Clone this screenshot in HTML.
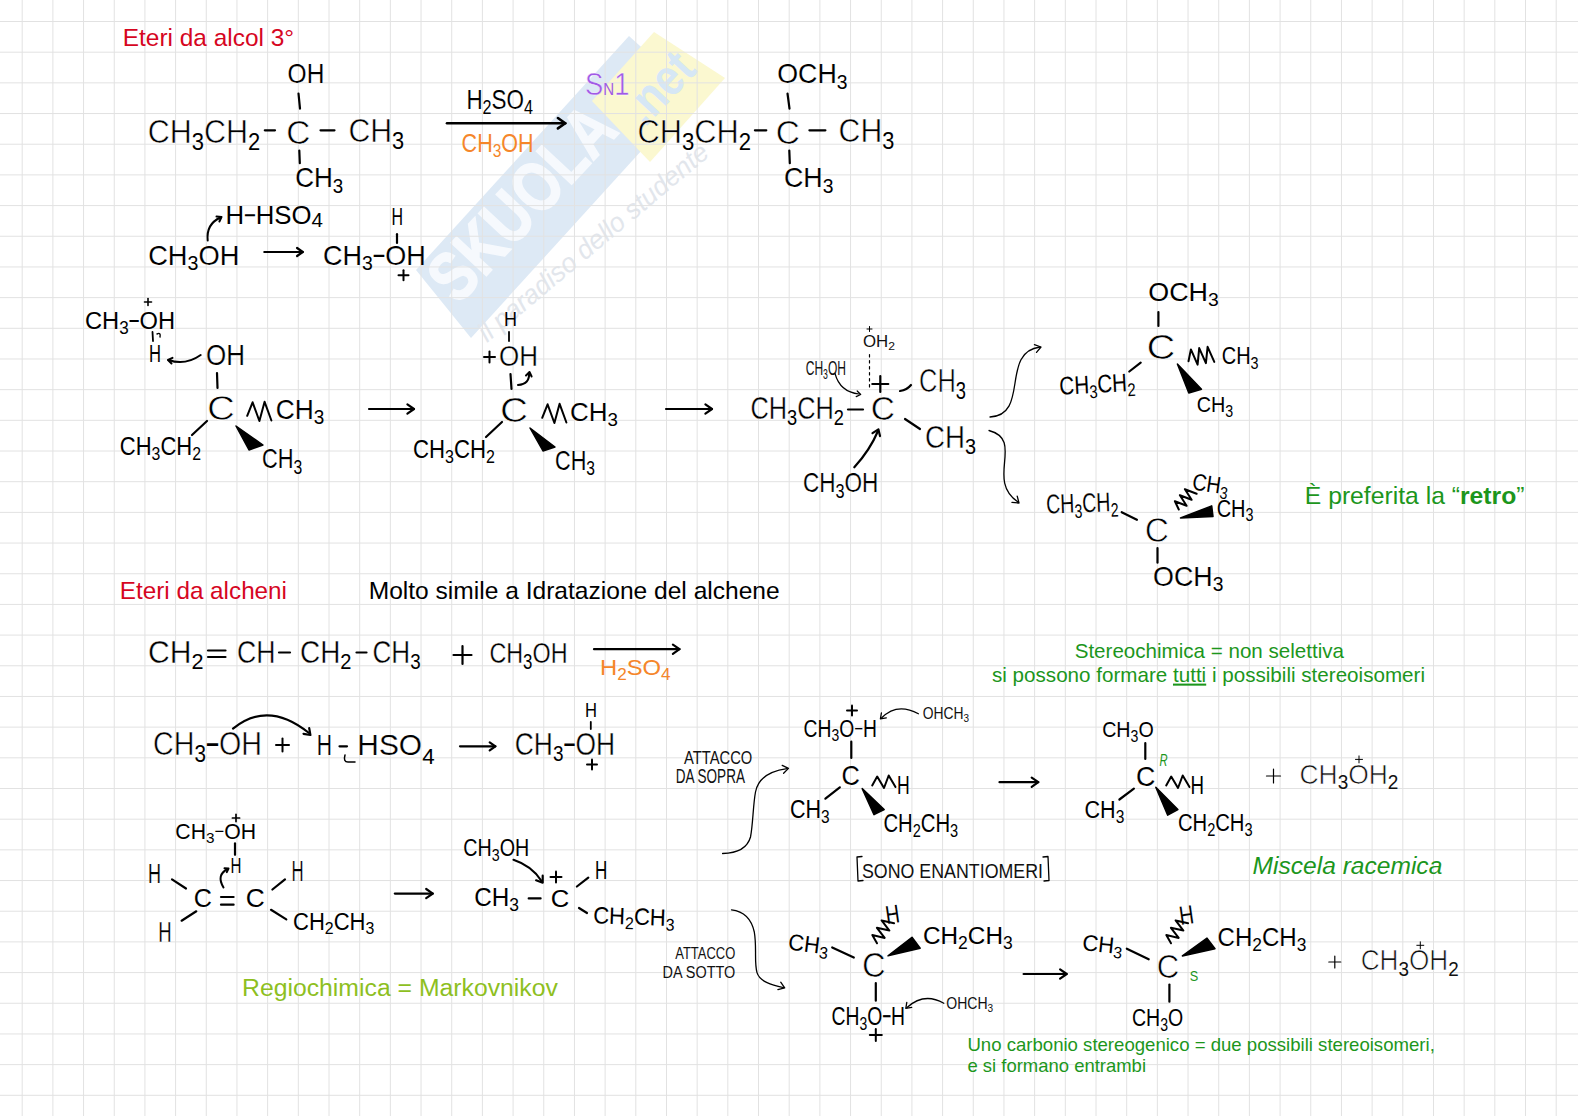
<!DOCTYPE html>
<html lang="it"><head><meta charset="utf-8"><title>Eteri</title>
<style>
html,body{margin:0;padding:0;background:#fff;}
svg{display:block;font-family:'Liberation Sans', sans-serif;}
</style></head><body>
<svg width="1578" height="1116" viewBox="0 0 1578 1116">
<rect width="1578" height="1116" fill="#fff"/>
<g id="wm">
<path d="M416 270L629 36L693 94L471 338Z" fill="#dde9f5"/>
<path d="M654 32L725 78L650 162L592 101Z" fill="#fbf8d0"/>
<text x="0" y="0" transform="translate(458 306) rotate(-47)" font-size="70" font-weight="bold" fill="#f6f9fd" stroke="#f6f9fd" stroke-width="1.5" textLength="238" lengthAdjust="spacingAndGlyphs">SKUOLA</text>
<text x="0" y="0" transform="translate(645 128) rotate(-47)" font-size="52" font-weight="bold" fill="#d6e7f5" textLength="78" lengthAdjust="spacingAndGlyphs">.net</text>
<text x="0" y="0" transform="translate(487 343) rotate(-40)" font-size="27" font-style="italic" fill="#e2e6ec" textLength="292" lengthAdjust="spacingAndGlyphs">il paradiso dello studente</text>
</g>
<path d="M22.20 0V1116M52.88 0V1116M83.56 0V1116M114.24 0V1116M144.92 0V1116M175.60 0V1116M206.28 0V1116M236.96 0V1116M267.64 0V1116M298.32 0V1116M329.00 0V1116M359.68 0V1116M390.36 0V1116M421.04 0V1116M451.72 0V1116M482.40 0V1116M513.08 0V1116M543.76 0V1116M574.44 0V1116M605.12 0V1116M635.80 0V1116M666.48 0V1116M697.16 0V1116M727.84 0V1116M758.52 0V1116M789.20 0V1116M819.88 0V1116M850.56 0V1116M881.24 0V1116M911.92 0V1116M942.60 0V1116M973.28 0V1116M1003.96 0V1116M1034.64 0V1116M1065.32 0V1116M1096.00 0V1116M1126.68 0V1116M1157.36 0V1116M1188.04 0V1116M1218.72 0V1116M1249.40 0V1116M1280.08 0V1116M1310.76 0V1116M1341.44 0V1116M1372.12 0V1116M1402.80 0V1116M1433.48 0V1116M1464.16 0V1116M1494.84 0V1116M1525.52 0V1116M1556.20 0V1116M0 21.50H1578M0 52.18H1578M0 82.86H1578M0 113.54H1578M0 144.22H1578M0 174.90H1578M0 205.58H1578M0 236.26H1578M0 266.94H1578M0 297.62H1578M0 328.30H1578M0 358.98H1578M0 389.66H1578M0 420.34H1578M0 451.02H1578M0 481.70H1578M0 512.38H1578M0 543.06H1578M0 573.74H1578M0 604.42H1578M0 635.10H1578M0 665.78H1578M0 696.46H1578M0 727.14H1578M0 757.82H1578M0 788.50H1578M0 819.18H1578M0 849.86H1578M0 880.54H1578M0 911.22H1578M0 941.90H1578M0 972.58H1578M0 1003.26H1578M0 1033.94H1578M0 1064.62H1578M0 1095.30H1578" stroke="#e2e2e2" stroke-width="1" fill="none"/>
<text x="122.8" y="46.0" font-size="24.4" textLength="171.2" lengthAdjust="spacingAndGlyphs" fill="#d6061f">Eteri da alcol 3°</text>
<text x="119.8" y="599.3" font-size="24.4" textLength="167.2" lengthAdjust="spacingAndGlyphs" fill="#d6061f">Eteri da alcheni</text>
<text x="368.7" y="599.3" font-size="24.4" textLength="411.0" lengthAdjust="spacingAndGlyphs" fill="#000">Molto simile a Idratazione del alchene</text>
<text x="1304.8" y="504" font-size="24.4" fill="#1c961c" textLength="219.7" lengthAdjust="spacingAndGlyphs">È preferita la “<tspan font-weight="bold">retro</tspan>”</text>
<text x="1074.7" y="658.0" font-size="20.6" textLength="269.3" lengthAdjust="spacingAndGlyphs" fill="#1c961c">Stereochimica = non selettiva</text>
<text x="992" y="681.6" font-size="20.6" fill="#1c961c" textLength="433" lengthAdjust="spacingAndGlyphs">si possono formare <tspan text-decoration="underline">tutti</tspan> i possibili stereoisomeri</text>
<text x="1252.6" y="873.5" font-size="24.5" textLength="189.7" lengthAdjust="spacingAndGlyphs" fill="#1c961c" font-style="italic">Miscela racemica</text>
<text x="242.0" y="995.5" font-size="24.7" textLength="315.9" lengthAdjust="spacingAndGlyphs" fill="#8ebf1f">Regiochimica = Markovnikov</text>
<text x="967.4" y="1050.7" font-size="18.5" textLength="467.4" lengthAdjust="spacingAndGlyphs" fill="#1c961c">Uno carbonio stereogenico = due possibili stereoisomeri,</text>
<text x="967.4" y="1072.4" font-size="18.5" textLength="178.6" lengthAdjust="spacingAndGlyphs" fill="#1c961c">e si formano entrambi</text>
<text x="287.6" y="83.4" font-size="27.1" textLength="36.7" lengthAdjust="spacingAndGlyphs" fill="#000" stroke="#fff" stroke-width="0.12">OH</text>
<path d="M298.5 93.5L300.0 108.7" stroke="#000" stroke-width="2.2" fill="none" stroke-linecap="round"/>
<text x="147.7" y="143.0" font-size="32.9" textLength="112.5" lengthAdjust="spacingAndGlyphs" fill="#000" stroke="#fff" stroke-width="0.57">CH<tspan font-size="23.7" stroke-width="0" dy="6.6">3</tspan><tspan dy="-6.6">CH</tspan><tspan font-size="23.7" stroke-width="0" dy="6.6">2</tspan></text>
<path d="M264.8 130.3L275.0 130.3" stroke="#000" stroke-width="2.2" fill="none" stroke-linecap="round"/>
<text x="286.3" y="143.5" font-size="33.6" textLength="24.1" lengthAdjust="spacingAndGlyphs" fill="#000" stroke="#fff" stroke-width="0.63">C</text>
<path d="M320.5 130.3L334.5 130.3" stroke="#000" stroke-width="2.2" fill="none" stroke-linecap="round"/>
<text x="348.4" y="142.0" font-size="32.9" textLength="55.8" lengthAdjust="spacingAndGlyphs" fill="#000" stroke="#fff" stroke-width="0.57">CH<tspan font-size="23.7" stroke-width="0" dy="6.6">3</tspan></text>
<path d="M299.3 150.5L299.8 163.2" stroke="#000" stroke-width="2.2" fill="none" stroke-linecap="round"/>
<text x="295.2" y="187.3" font-size="27.1" textLength="48.1" lengthAdjust="spacingAndGlyphs" fill="#000" stroke="#fff" stroke-width="0.12">CH<tspan font-size="19.5" stroke-width="0" dy="5.4">3</tspan></text>
<text x="466.4" y="108.7" font-size="27.1" textLength="66.6" lengthAdjust="spacingAndGlyphs" fill="#000" stroke="#fff" stroke-width="0.12">H<tspan font-size="19.5" stroke-width="0" dy="5.4">2</tspan><tspan dy="-5.4">SO</tspan><tspan font-size="19.5" stroke-width="0" dy="5.4">4</tspan></text>
<path d="M447.0 123.2L565.3 123.2" stroke="#000" stroke-width="2.6" fill="none" stroke-linecap="round"/>
<path d="M557.9 128.4L565.3 123.2L557.9 118.0" stroke="#000" stroke-width="2.6" fill="none" stroke-linecap="round" stroke-linejoin="round"/>
<text x="461.6" y="151.8" font-size="25.4" textLength="72.0" lengthAdjust="spacingAndGlyphs" fill="#f5862a" stroke="#fff" stroke-width="0">CH<tspan font-size="18.3" stroke-width="0" dy="5.1">3</tspan><tspan dy="-5.1">OH</tspan></text>
<text x="585.0" y="94.8" font-size="30.9" textLength="44.4" lengthAdjust="spacingAndGlyphs" fill="#a05ae6" stroke="#fff" stroke-width="0.41">S<tspan font-size="17.0" stroke-width="0">N</tspan>1</text>
<text x="637.5" y="143.0" font-size="32.9" textLength="113.5" lengthAdjust="spacingAndGlyphs" fill="#000" stroke="#fff" stroke-width="0.57">CH<tspan font-size="23.7" stroke-width="0" dy="6.6">3</tspan><tspan dy="-6.6">CH</tspan><tspan font-size="23.7" stroke-width="0" dy="6.6">2</tspan></text>
<path d="M754.9 130.3L766.3 130.3" stroke="#000" stroke-width="2.2" fill="none" stroke-linecap="round"/>
<text x="777.2" y="83.4" font-size="27.1" textLength="70.3" lengthAdjust="spacingAndGlyphs" fill="#000" stroke="#fff" stroke-width="0.12">OCH<tspan font-size="19.5" stroke-width="0" dy="5.4">3</tspan></text>
<path d="M787.5 93.5L789.5 108.7" stroke="#000" stroke-width="2.2" fill="none" stroke-linecap="round"/>
<text x="775.7" y="143.5" font-size="33.6" textLength="24.1" lengthAdjust="spacingAndGlyphs" fill="#000" stroke="#fff" stroke-width="0.63">C</text>
<path d="M809.4 130.3L825.4 130.3" stroke="#000" stroke-width="2.2" fill="none" stroke-linecap="round"/>
<text x="838.6" y="142.0" font-size="32.9" textLength="55.7" lengthAdjust="spacingAndGlyphs" fill="#000" stroke="#fff" stroke-width="0.57">CH<tspan font-size="23.7" stroke-width="0" dy="6.6">3</tspan></text>
<path d="M789.3 150.5L789.8 163.2" stroke="#000" stroke-width="2.2" fill="none" stroke-linecap="round"/>
<text x="784.0" y="187.3" font-size="27.1" textLength="49.5" lengthAdjust="spacingAndGlyphs" fill="#000" stroke="#fff" stroke-width="0.12">CH<tspan font-size="19.5" stroke-width="0" dy="5.4">3</tspan></text>
<text x="225.5" y="224.0" font-size="25.3" textLength="97.5" lengthAdjust="spacingAndGlyphs" fill="#000" stroke="#fff" stroke-width="0">H<tspan font-size="19.7" stroke-width="0" font-weight="bold" dy="-1.8">−</tspan><tspan dy="1.8">HSO</tspan><tspan font-size="20.2" stroke-width="0" dy="2.5">4</tspan></text>
<path d="M207.7 240.5Q206 224 220.5 217.5" stroke="#000" stroke-width="2.0" fill="none" stroke-linecap="round" stroke-linejoin="round"/>
<path d="M219.4 221.5L221.5 217.0L216.5 216.6" stroke="#000" stroke-width="2.0" fill="none" stroke-linecap="round" stroke-linejoin="round"/>
<text x="148.2" y="264.6" font-size="27.1" textLength="91.2" lengthAdjust="spacingAndGlyphs" fill="#000" stroke="#fff" stroke-width="0.12">CH<tspan font-size="19.5" stroke-width="0" dy="5.4">3</tspan><tspan dy="-5.4">OH</tspan></text>
<path d="M264.3 252.0L302.8 252.0" stroke="#000" stroke-width="2.2" fill="none" stroke-linecap="round"/>
<path d="M297.1 256.0L302.8 252.0L297.1 248.0" stroke="#000" stroke-width="2.2" fill="none" stroke-linecap="round" stroke-linejoin="round"/>
<text x="391.5" y="225.3" font-size="23.6" textLength="11.5" lengthAdjust="spacingAndGlyphs" fill="#000" stroke="#fff" stroke-width="0">H</text>
<path d="M397.0 234.2L397.0 243.0" stroke="#000" stroke-width="2.2" fill="none" stroke-linecap="round"/>
<text x="323.0" y="264.6" font-size="27.1" textLength="102.7" lengthAdjust="spacingAndGlyphs" fill="#000" stroke="#fff" stroke-width="0.12">CH<tspan font-size="19.5" stroke-width="0" dy="5.4">3</tspan><tspan font-size="21.2" stroke-width="0" font-weight="bold" dy="-7.3">−</tspan><tspan dy="1.9">OH</tspan></text>
<path d="M398.5 275.3L408.5 275.3" stroke="#000" stroke-width="2.0" fill="none" stroke-linecap="round"/>
<path d="M403.5 270.3L403.5 280.3" stroke="#000" stroke-width="2.0" fill="none" stroke-linecap="round"/>
<path d="M144.5 302.0L151.5 302.0" stroke="#000" stroke-width="1.6" fill="none" stroke-linecap="round"/>
<path d="M148.0 298.5L148.0 305.5" stroke="#000" stroke-width="1.6" fill="none" stroke-linecap="round"/>
<text x="85.0" y="329.0" font-size="24.3" textLength="90.0" lengthAdjust="spacingAndGlyphs" fill="#000" stroke="#fff" stroke-width="0">CH<tspan font-size="17.5" stroke-width="0" dy="4.9">3</tspan><tspan font-size="18.9" stroke-width="0" font-weight="bold" dy="-6.6">−</tspan><tspan dy="1.7">OH</tspan></text>
<path d="M152.5 332.0L153.0 341.0" stroke="#000" stroke-width="1.8" fill="none" stroke-linecap="round"/>
<path d="M157 334q4 -2 3 3" stroke="#000" stroke-width="1.4" fill="none" stroke-linecap="round" stroke-linejoin="round"/>
<text x="149.0" y="362.0" font-size="24.3" textLength="12.0" lengthAdjust="spacingAndGlyphs" fill="#000" stroke="#fff" stroke-width="0">H</text>
<path d="M200.7 355Q185 366 168.5 360" stroke="#000" stroke-width="2.0" fill="none" stroke-linecap="round" stroke-linejoin="round"/>
<path d="M172.5 357.9L168.0 360.0L171.5 363.5" stroke="#000" stroke-width="2.0" fill="none" stroke-linecap="round" stroke-linejoin="round"/>
<text x="206.0" y="365.0" font-size="28.6" textLength="39.0" lengthAdjust="spacingAndGlyphs" fill="#000" stroke="#fff" stroke-width="0.23">OH</text>
<path d="M217.0 373.0L217.5 388.0" stroke="#000" stroke-width="2.2" fill="none" stroke-linecap="round"/>
<text x="207.0" y="420.0" font-size="35.7" textLength="28.0" lengthAdjust="spacingAndGlyphs" fill="#000" stroke="#fff" stroke-width="0.79">C</text>
<path d="M247.2 415.8L252.6 402.3L259.4 421.0L264.6 401.8L271.4 420.5" stroke="#000" stroke-width="2.0" fill="none" stroke-linecap="round" stroke-linejoin="round"/>
<text x="275.7" y="418.8" font-size="27.1" textLength="48.6" lengthAdjust="spacingAndGlyphs" fill="#000" stroke="#fff" stroke-width="0.12">CH<tspan font-size="19.5" stroke-width="0" dy="5.4">3</tspan></text>
<path d="M207.0 421.0L192.0 435.0" stroke="#000" stroke-width="2.2" fill="none" stroke-linecap="round"/>
<text x="119.8" y="454.5" font-size="25.0" textLength="81.2" lengthAdjust="spacingAndGlyphs" fill="#000" stroke="#fff" stroke-width="0">CH<tspan font-size="18.0" stroke-width="0" dy="5.0">3</tspan><tspan dy="-5.0">CH</tspan><tspan font-size="18.0" stroke-width="0" dy="5.0">2</tspan></text>
<path d="M236.0 426.0L249.0 450.0L263.0 445.0Z" fill="#000" stroke="#000" stroke-width="1.5" stroke-linejoin="round"/>
<text x="262.0" y="468.2" font-size="27.1" textLength="40.3" lengthAdjust="spacingAndGlyphs" fill="#000" stroke="#fff" stroke-width="0.12">CH<tspan font-size="19.5" stroke-width="0" dy="5.4">3</tspan></text>
<path d="M369.0 409.0L414.0 409.0" stroke="#000" stroke-width="2.2" fill="none" stroke-linecap="round"/>
<path d="M407.4 413.6L414.0 409.0L407.4 404.4" stroke="#000" stroke-width="2.2" fill="none" stroke-linecap="round" stroke-linejoin="round"/>
<text x="504.0" y="326.0" font-size="20.0" textLength="13.0" lengthAdjust="spacingAndGlyphs" fill="#000" stroke="#fff" stroke-width="0">H</text>
<path d="M509.0 332.0L509.0 341.0" stroke="#000" stroke-width="1.8" fill="none" stroke-linecap="round"/>
<path d="M484.0 357.0L495.0 357.0" stroke="#000" stroke-width="2.0" fill="none" stroke-linecap="round"/>
<path d="M489.5 351.5L489.5 362.5" stroke="#000" stroke-width="2.0" fill="none" stroke-linecap="round"/>
<text x="499.0" y="366.0" font-size="30.0" textLength="39.0" lengthAdjust="spacingAndGlyphs" fill="#000" stroke="#fff" stroke-width="0.35">OH</text>
<path d="M510.5 374.0L511.5 389.0" stroke="#000" stroke-width="2.2" fill="none" stroke-linecap="round"/>
<path d="M518 385Q530 384 529 373" stroke="#000" stroke-width="2.0" fill="none" stroke-linecap="round" stroke-linejoin="round"/>
<path d="M531.6 376.5L529.5 372.0L526.0 375.5" stroke="#000" stroke-width="2.0" fill="none" stroke-linecap="round" stroke-linejoin="round"/>
<text x="500.0" y="422.0" font-size="34.3" textLength="28.0" lengthAdjust="spacingAndGlyphs" fill="#000" stroke="#fff" stroke-width="0.68">C</text>
<path d="M542.2 417.8L547.6 404.3L554.4 423.0L559.6 403.8L566.4 422.5" stroke="#000" stroke-width="2.0" fill="none" stroke-linecap="round" stroke-linejoin="round"/>
<text x="570.0" y="420.5" font-size="26.4" textLength="48.0" lengthAdjust="spacingAndGlyphs" fill="#000" stroke="#fff" stroke-width="0.07">CH<tspan font-size="19.0" stroke-width="0" dy="5.3">3</tspan></text>
<path d="M502.0 422.0L486.0 437.0" stroke="#000" stroke-width="2.2" fill="none" stroke-linecap="round"/>
<text x="413.0" y="457.6" font-size="25.1" textLength="82.0" lengthAdjust="spacingAndGlyphs" fill="#000" stroke="#fff" stroke-width="0">CH<tspan font-size="18.1" stroke-width="0" dy="5.0">3</tspan><tspan dy="-5.0">CH</tspan><tspan font-size="18.1" stroke-width="0" dy="5.0">2</tspan></text>
<path d="M530.0 428.0L543.0 451.0L555.0 447.0Z" fill="#000" stroke="#000" stroke-width="1.5" stroke-linejoin="round"/>
<text x="555.0" y="470.0" font-size="27.1" textLength="40.0" lengthAdjust="spacingAndGlyphs" fill="#000" stroke="#fff" stroke-width="0.12">CH<tspan font-size="19.5" stroke-width="0" dy="5.4">3</tspan></text>
<path d="M666.0 409.0L712.0 409.0" stroke="#000" stroke-width="2.2" fill="none" stroke-linecap="round"/>
<path d="M705.4 413.6L712.0 409.0L705.4 404.4" stroke="#000" stroke-width="2.2" fill="none" stroke-linecap="round" stroke-linejoin="round"/>
<path d="M867.0 329.0L872.0 329.0" stroke="#000" stroke-width="1.0" fill="none" stroke-linecap="round"/>
<path d="M869.5 326.5L869.5 331.5" stroke="#000" stroke-width="1.0" fill="none" stroke-linecap="round"/>
<text x="863.0" y="347.0" font-size="16.4" textLength="32.0" lengthAdjust="spacingAndGlyphs" fill="#111" stroke="#fff" stroke-width="0">OH<tspan font-size="11.8" stroke-width="0" dy="3.3">2</tspan></text>
<path d="M869.5 354.5L869.5 390.0" stroke="#000" stroke-width="1.2" fill="none" stroke-linecap="round" stroke-dasharray="2.5 3.5"/>
<text x="805.7" y="374.8" font-size="21.1" textLength="40.3" lengthAdjust="spacingAndGlyphs" fill="#111" stroke="#fff" stroke-width="0">CH<tspan font-size="15.2" stroke-width="0" dy="4.2">3</tspan><tspan dy="-4.2">OH</tspan></text>
<path d="M835 373.5Q840 392 859 394" stroke="#000" stroke-width="1.2" fill="none" stroke-linecap="round" stroke-linejoin="round"/>
<path d="M856.2 396.6L860.7 394.5L857.2 391.0" stroke="#000" stroke-width="1.2" fill="none" stroke-linecap="round" stroke-linejoin="round"/>
<path d="M872.3 384.0L888.3 384.0" stroke="#000" stroke-width="2.2" fill="none" stroke-linecap="round"/>
<path d="M880.3 376.0L880.3 392.0" stroke="#000" stroke-width="2.2" fill="none" stroke-linecap="round"/>
<path d="M900 391Q907 390 911 385" stroke="#000" stroke-width="2.2" fill="none" stroke-linecap="round" stroke-linejoin="round"/>
<text x="919.0" y="392.0" font-size="33.7" textLength="47.0" lengthAdjust="spacingAndGlyphs" fill="#000" stroke="#fff" stroke-width="0.64">CH<tspan font-size="24.3" stroke-width="0" dy="6.7">3</tspan></text>
<text x="750.4" y="419.0" font-size="30.6" textLength="93.6" lengthAdjust="spacingAndGlyphs" fill="#000" stroke="#fff" stroke-width="0.39">CH<tspan font-size="22.0" stroke-width="0" dy="6.1">3</tspan><tspan dy="-6.1">CH</tspan><tspan font-size="22.0" stroke-width="0" dy="6.1">2</tspan></text>
<path d="M848.0 409.5L863.0 409.5" stroke="#000" stroke-width="2.2" fill="none" stroke-linecap="round"/>
<text x="870.8" y="420.4" font-size="32.6" textLength="24.2" lengthAdjust="spacingAndGlyphs" fill="#000" stroke="#fff" stroke-width="0.55">C</text>
<path d="M905.0 419.0L920.0 429.0" stroke="#000" stroke-width="2.2" fill="none" stroke-linecap="round"/>
<text x="925.0" y="447.5" font-size="31.4" textLength="51.0" lengthAdjust="spacingAndGlyphs" fill="#000" stroke="#fff" stroke-width="0.46">CH<tspan font-size="22.6" stroke-width="0" dy="6.3">3</tspan></text>
<path d="M854.3 467.3Q870 450 878 431" stroke="#000" stroke-width="2.2" fill="none" stroke-linecap="round" stroke-linejoin="round"/>
<path d="M880.0 436.1L878.4 429.3L872.5 433.1" stroke="#000" stroke-width="2.2" fill="none" stroke-linecap="round" stroke-linejoin="round"/>
<text x="803.0" y="492.0" font-size="28.0" textLength="75.4" lengthAdjust="spacingAndGlyphs" fill="#000" stroke="#fff" stroke-width="0.19">CH<tspan font-size="20.2" stroke-width="0" dy="5.6">3</tspan><tspan dy="-5.6">OH</tspan></text>
<path d="M990 417C1030 415 1000 352 1040 347" stroke="#000" stroke-width="1.3" fill="none" stroke-linecap="round" stroke-linejoin="round"/>
<path d="M1036.5 352.4L1041.0 347.0L1034.4 344.6" stroke="#000" stroke-width="1.3" fill="none" stroke-linecap="round" stroke-linejoin="round"/>
<path d="M989 430.5C1025 440 985 480 1018 502" stroke="#000" stroke-width="1.3" fill="none" stroke-linecap="round" stroke-linejoin="round"/>
<path d="M1012.0 502.4L1019.0 503.0L1017.2 496.2" stroke="#000" stroke-width="1.3" fill="none" stroke-linecap="round" stroke-linejoin="round"/>
<text x="1148.3" y="301.2" font-size="26.0" textLength="70.4" lengthAdjust="spacingAndGlyphs" fill="#000" stroke="#fff" stroke-width="0.03">OCH<tspan font-size="18.7" stroke-width="0" dy="5.2">3</tspan></text>
<path d="M1158.4 312.0L1158.4 326.0" stroke="#000" stroke-width="2.2" fill="none" stroke-linecap="round"/>
<text x="1146.5" y="358.9" font-size="34.4" textLength="28.9" lengthAdjust="spacingAndGlyphs" fill="#000" stroke="#fff" stroke-width="0.69">C</text>
<path d="M1188.5 361.2L1190.9 349.4L1197.6 364.6L1199.2 348.1L1205.9 363.2L1207.6 346.8L1214.3 361.9" stroke="#000" stroke-width="2.0" fill="none" stroke-linecap="round" stroke-linejoin="round"/>
<text x="1221.8" y="364.0" font-size="23.6" textLength="36.8" lengthAdjust="spacingAndGlyphs" fill="#000" stroke="#fff" stroke-width="0">CH<tspan font-size="17.0" stroke-width="0" dy="4.7">3</tspan></text>
<path d="M1140.7 362.7L1129.3 371.5" stroke="#000" stroke-width="2.2" fill="none" stroke-linecap="round"/>
<text x="1059.8" y="394.8" font-size="25.4" textLength="76.0" lengthAdjust="spacingAndGlyphs" fill="#000" stroke="#fff" stroke-width="0" transform="rotate(-3 1059.8 394.8)">CH<tspan font-size="18.3" stroke-width="0" dy="5.1">3</tspan><tspan dy="-5.1">CH</tspan><tspan font-size="18.3" stroke-width="0" dy="5.1">2</tspan></text>
<path d="M1177.4 364.0L1188.8 393.0L1201.5 389.3Z" fill="#000" stroke="#000" stroke-width="1.5" stroke-linejoin="round"/>
<text x="1196.7" y="412.2" font-size="22.4" textLength="36.5" lengthAdjust="spacingAndGlyphs" fill="#000" stroke="#fff" stroke-width="0">CH<tspan font-size="16.1" stroke-width="0" dy="4.5">3</tspan></text>
<text x="1046.4" y="513.5" font-size="27.1" textLength="72.2" lengthAdjust="spacingAndGlyphs" fill="#000" stroke="#fff" stroke-width="0.12" transform="rotate(-2 1046.4 513.5)">CH<tspan font-size="19.5" stroke-width="0" dy="5.4">3</tspan><tspan dy="-5.4">CH</tspan><tspan font-size="19.5" stroke-width="0" dy="5.4">2</tspan></text>
<path d="M1121.7 512.2L1136.9 519.8" stroke="#000" stroke-width="2.2" fill="none" stroke-linecap="round"/>
<text x="1144.7" y="542.0" font-size="35.7" textLength="24.3" lengthAdjust="spacingAndGlyphs" fill="#000" stroke="#fff" stroke-width="0.79">C</text>
<path d="M1178.8 509.5L1174.9 501.2L1186.6 505.8L1179.9 495.2L1191.6 499.8L1184.9 489.2L1196.6 493.8" stroke="#000" stroke-width="2.0" fill="none" stroke-linecap="round" stroke-linejoin="round"/>
<text x="1191.4" y="489.5" font-size="23.6" textLength="36.6" lengthAdjust="spacingAndGlyphs" fill="#000" stroke="#fff" stroke-width="0" transform="rotate(8 1191.4 489.5)">CH<tspan font-size="17.0" stroke-width="0" dy="4.7">3</tspan></text>
<path d="M1180.5 518.0L1211.7 505.9L1213.0 516.5Z" fill="#000" stroke="#000" stroke-width="1.5" stroke-linejoin="round"/>
<text x="1216.7" y="516.5" font-size="24.3" textLength="36.8" lengthAdjust="spacingAndGlyphs" fill="#000" stroke="#fff" stroke-width="0">CH<tspan font-size="17.5" stroke-width="0" dy="4.9">3</tspan></text>
<path d="M1157.5 548.0L1157.5 562.7" stroke="#000" stroke-width="2.2" fill="none" stroke-linecap="round"/>
<text x="1153.0" y="585.5" font-size="27.3" textLength="70.4" lengthAdjust="spacingAndGlyphs" fill="#000" stroke="#fff" stroke-width="0.13">OCH<tspan font-size="19.6" stroke-width="0" dy="5.5">3</tspan></text>
<text x="148.0" y="662.7" font-size="31.0" textLength="55.5" lengthAdjust="spacingAndGlyphs" fill="#000" stroke="#fff" stroke-width="0.42">CH<tspan font-size="22.3" stroke-width="0" dy="6.2">2</tspan></text>
<path d="M208.0 650.5L225.5 650.5" stroke="#000" stroke-width="2.2" fill="none" stroke-linecap="round"/>
<path d="M208.0 657.0L225.5 657.0" stroke="#000" stroke-width="2.2" fill="none" stroke-linecap="round"/>
<text x="237.0" y="662.7" font-size="31.0" textLength="38.5" lengthAdjust="spacingAndGlyphs" fill="#000" stroke="#fff" stroke-width="0.42">CH</text>
<path d="M279.0 652.5L290.0 652.5" stroke="#000" stroke-width="2.2" fill="none" stroke-linecap="round"/>
<text x="300.0" y="662.7" font-size="31.0" textLength="51.5" lengthAdjust="spacingAndGlyphs" fill="#000" stroke="#fff" stroke-width="0.42">CH<tspan font-size="22.3" stroke-width="0" dy="6.2">2</tspan></text>
<path d="M356.5 652.5L366.5 652.5" stroke="#000" stroke-width="2.2" fill="none" stroke-linecap="round"/>
<text x="372.5" y="662.7" font-size="31.0" textLength="48.2" lengthAdjust="spacingAndGlyphs" fill="#000" stroke="#fff" stroke-width="0.42">CH<tspan font-size="22.3" stroke-width="0" dy="6.2">3</tspan></text>
<path d="M453.5 655.0L471.5 655.0" stroke="#000" stroke-width="2.2" fill="none" stroke-linecap="round"/>
<path d="M462.5 646.0L462.5 664.0" stroke="#000" stroke-width="2.2" fill="none" stroke-linecap="round"/>
<text x="489.4" y="662.7" font-size="30.1" textLength="78.1" lengthAdjust="spacingAndGlyphs" fill="#000" stroke="#fff" stroke-width="0.36">CH<tspan font-size="21.7" stroke-width="0" dy="6.0">3</tspan><tspan dy="-6.0">OH</tspan></text>
<path d="M594.0 649.2L679.5 649.2" stroke="#000" stroke-width="2.2" fill="none" stroke-linecap="round"/>
<path d="M672.9 653.8L679.5 649.2L672.9 644.6" stroke="#000" stroke-width="2.2" fill="none" stroke-linecap="round" stroke-linejoin="round"/>
<text x="600.0" y="675.3" font-size="22.7" textLength="70.7" lengthAdjust="spacingAndGlyphs" fill="#f5862a" stroke="#fff" stroke-width="0">H<tspan font-size="16.4" stroke-width="0" dy="4.5">2</tspan><tspan dy="-4.5">SO</tspan><tspan font-size="16.4" stroke-width="0" dy="4.5">4</tspan></text>
<text x="153.0" y="755.2" font-size="32.6" textLength="109.0" lengthAdjust="spacingAndGlyphs" fill="#000" stroke="#fff" stroke-width="0.55">CH<tspan font-size="23.5" stroke-width="0" dy="6.5">3</tspan><tspan font-size="25.4" stroke-width="0" font-weight="bold" dy="-8.8">−</tspan><tspan dy="2.3">OH</tspan></text>
<path d="M276.0 745.0L289.0 745.0" stroke="#000" stroke-width="2.0" fill="none" stroke-linecap="round"/>
<path d="M282.5 738.5L282.5 751.5" stroke="#000" stroke-width="2.0" fill="none" stroke-linecap="round"/>
<path d="M233 728.6Q268 700 309 733" stroke="#000" stroke-width="2.2" fill="none" stroke-linecap="round" stroke-linejoin="round"/>
<path d="M303.5 733.8L310.4 735.0L309.2 728.1" stroke="#000" stroke-width="2.2" fill="none" stroke-linecap="round" stroke-linejoin="round"/>
<text x="316.7" y="755.0" font-size="28.6" textLength="15.3" lengthAdjust="spacingAndGlyphs" fill="#000" stroke="#fff" stroke-width="0.23">H</text>
<path d="M339.5 746.3L347.0 746.3" stroke="#000" stroke-width="2.2" fill="none" stroke-linecap="round"/>
<path d="M345 755q-2 7 3 7l7 0" stroke="#000" stroke-width="1.5" fill="none" stroke-linecap="round" stroke-linejoin="round"/>
<text x="357.3" y="755.0" font-size="28.6" textLength="77.3" lengthAdjust="spacingAndGlyphs" fill="#000" stroke="#fff" stroke-width="0.23">HSO<tspan font-size="21.4" stroke-width="0" dy="8.6">4</tspan></text>
<path d="M460.0 746.3L495.4 746.3" stroke="#000" stroke-width="2.2" fill="none" stroke-linecap="round"/>
<path d="M489.7 750.3L495.4 746.3L489.7 742.3" stroke="#000" stroke-width="2.2" fill="none" stroke-linecap="round" stroke-linejoin="round"/>
<text x="585.0" y="717.0" font-size="20.0" textLength="12.0" lengthAdjust="spacingAndGlyphs" fill="#000" stroke="#fff" stroke-width="0">H</text>
<path d="M590.8 722.0L590.8 729.0" stroke="#000" stroke-width="1.8" fill="none" stroke-linecap="round"/>
<text x="514.8" y="755.2" font-size="30.9" textLength="100.2" lengthAdjust="spacingAndGlyphs" fill="#000" stroke="#fff" stroke-width="0.41">CH<tspan font-size="22.2" stroke-width="0" dy="6.2">3</tspan><tspan font-size="24.1" stroke-width="0" font-weight="bold" dy="-8.3">−</tspan><tspan dy="2.2">OH</tspan></text>
<path d="M587.0 764.5L597.0 764.5" stroke="#000" stroke-width="2.0" fill="none" stroke-linecap="round"/>
<path d="M592.0 759.5L592.0 769.5" stroke="#000" stroke-width="2.0" fill="none" stroke-linecap="round"/>
<path d="M232.4 818.0L239.6 818.0" stroke="#000" stroke-width="1.7" fill="none" stroke-linecap="round"/>
<path d="M236.0 814.4L236.0 821.6" stroke="#000" stroke-width="1.7" fill="none" stroke-linecap="round"/>
<text x="175.3" y="838.5" font-size="21.4" textLength="80.7" lengthAdjust="spacingAndGlyphs" fill="#000" stroke="#fff" stroke-width="0">CH<tspan font-size="15.4" stroke-width="0" dy="4.3">3</tspan><tspan font-size="16.7" stroke-width="0" dy="-5.8">−</tspan><tspan dy="1.5">OH</tspan></text>
<path d="M235.0 843.4L235.0 854.8" stroke="#000" stroke-width="2.2" fill="none" stroke-linecap="round"/>
<text x="230.5" y="872.5" font-size="22.1" textLength="10.9" lengthAdjust="spacingAndGlyphs" fill="#000" stroke="#fff" stroke-width="0">H</text>
<path d="M223.5 887.5Q216 875 227.5 869" stroke="#000" stroke-width="2.0" fill="none" stroke-linecap="round" stroke-linejoin="round"/>
<path d="M226.8 872.1L228.5 868.5L224.5 868.2" stroke="#000" stroke-width="2.0" fill="none" stroke-linecap="round" stroke-linejoin="round"/>
<text x="148.0" y="882.7" font-size="28.1" textLength="13.0" lengthAdjust="spacingAndGlyphs" fill="#000" stroke="#fff" stroke-width="0.2">H</text>
<path d="M172.0 879.4L186.0 888.5" stroke="#000" stroke-width="2.2" fill="none" stroke-linecap="round"/>
<text x="193.8" y="906.7" font-size="26.0" textLength="18.2" lengthAdjust="spacingAndGlyphs" fill="#000" stroke="#fff" stroke-width="0.03">C</text>
<path d="M221.0 897.0L233.6 897.0" stroke="#000" stroke-width="2.2" fill="none" stroke-linecap="round"/>
<path d="M221.0 904.7L233.6 904.7" stroke="#000" stroke-width="2.2" fill="none" stroke-linecap="round"/>
<text x="245.8" y="907.2" font-size="26.0" textLength="19.0" lengthAdjust="spacingAndGlyphs" fill="#000" stroke="#fff" stroke-width="0.03">C</text>
<path d="M272.4 889.5L285.0 879.4" stroke="#000" stroke-width="2.2" fill="none" stroke-linecap="round"/>
<text x="291.4" y="881.0" font-size="28.6" textLength="12.1" lengthAdjust="spacingAndGlyphs" fill="#000" stroke="#fff" stroke-width="0.23">H</text>
<path d="M181.6 920.7L196.3 911.3" stroke="#000" stroke-width="2.2" fill="none" stroke-linecap="round"/>
<text x="158.3" y="942.2" font-size="28.9" textLength="13.4" lengthAdjust="spacingAndGlyphs" fill="#000" stroke="#fff" stroke-width="0.26">H</text>
<path d="M271.0 909.8L286.3 919.4" stroke="#000" stroke-width="2.2" fill="none" stroke-linecap="round"/>
<text x="293.0" y="929.6" font-size="23.7" textLength="81.3" lengthAdjust="spacingAndGlyphs" fill="#000" stroke="#fff" stroke-width="0">CH<tspan font-size="17.1" stroke-width="0" dy="4.7">2</tspan><tspan dy="-4.7">CH</tspan><tspan font-size="17.1" stroke-width="0" dy="4.7">3</tspan></text>
<path d="M394.8 893.6L432.8 893.6" stroke="#000" stroke-width="2.2" fill="none" stroke-linecap="round"/>
<path d="M426.2 898.2L432.8 893.6L426.2 889.0" stroke="#000" stroke-width="2.2" fill="none" stroke-linecap="round" stroke-linejoin="round"/>
<text x="463.3" y="856.0" font-size="23.4" textLength="65.9" lengthAdjust="spacingAndGlyphs" fill="#000" stroke="#fff" stroke-width="0">CH<tspan font-size="16.9" stroke-width="0" dy="4.7">3</tspan><tspan dy="-4.7">OH</tspan></text>
<path d="M513.5 859.8Q532 866 541.5 881" stroke="#000" stroke-width="2.2" fill="none" stroke-linecap="round" stroke-linejoin="round"/>
<path d="M536.1 880.3L542.7 882.7L542.7 875.7" stroke="#000" stroke-width="2.2" fill="none" stroke-linecap="round" stroke-linejoin="round"/>
<path d="M550.5 877.0L561.5 877.0" stroke="#000" stroke-width="2.0" fill="none" stroke-linecap="round"/>
<path d="M556.0 871.5L556.0 882.5" stroke="#000" stroke-width="2.0" fill="none" stroke-linecap="round"/>
<text x="474.2" y="905.5" font-size="25.4" textLength="44.8" lengthAdjust="spacingAndGlyphs" fill="#000" stroke="#fff" stroke-width="0">CH<tspan font-size="18.3" stroke-width="0" dy="5.1">3</tspan></text>
<path d="M528.7 898.4L540.6 898.4" stroke="#000" stroke-width="2.2" fill="none" stroke-linecap="round"/>
<text x="550.8" y="906.7" font-size="24.6" textLength="18.5" lengthAdjust="spacingAndGlyphs" fill="#000" stroke="#fff" stroke-width="0">C</text>
<path d="M576.9 886.5L588.3 877.6" stroke="#000" stroke-width="2.2" fill="none" stroke-linecap="round"/>
<text x="595.0" y="879.4" font-size="25.4" textLength="12.3" lengthAdjust="spacingAndGlyphs" fill="#000" stroke="#fff" stroke-width="0">H</text>
<path d="M579.0 908.0L587.0 913.0" stroke="#000" stroke-width="2.2" fill="none" stroke-linecap="round"/>
<text x="592.9" y="923.2" font-size="23.6" textLength="81.6" lengthAdjust="spacingAndGlyphs" fill="#000" stroke="#fff" stroke-width="0" transform="rotate(2 592.9 923.2)">CH<tspan font-size="17.0" stroke-width="0" dy="4.7">2</tspan><tspan dy="-4.7">CH</tspan><tspan font-size="17.0" stroke-width="0" dy="4.7">3</tspan></text>
<text x="684.0" y="764.0" font-size="18.0" textLength="68.3" lengthAdjust="spacingAndGlyphs" fill="#111" stroke="#fff" stroke-width="0">ATTACCO</text>
<text x="675.7" y="783.0" font-size="20.0" textLength="69.3" lengthAdjust="spacingAndGlyphs" fill="#111" stroke="#fff" stroke-width="0">DA SOPRA</text>
<path d="M722.6 853.5Q746 853 750.5 837C753 825 753 805 755.5 792C758 778 770 771 787 768.6" stroke="#000" stroke-width="1.3" fill="none" stroke-linecap="round" stroke-linejoin="round"/>
<path d="M783.6 773.3L788.5 768.4L782.2 765.4" stroke="#000" stroke-width="1.3" fill="none" stroke-linecap="round" stroke-linejoin="round"/>
<text x="675.2" y="958.7" font-size="16.3" textLength="60.1" lengthAdjust="spacingAndGlyphs" fill="#111" stroke="#fff" stroke-width="0">ATTACCO</text>
<text x="662.6" y="977.7" font-size="16.3" textLength="72.7" lengthAdjust="spacingAndGlyphs" fill="#111" stroke="#fff" stroke-width="0">DA SOTTO</text>
<path d="M731.5 909.8Q750 912 754.3 932C757 948 754 962 757 972.6C760 982 772 985 783.5 987.6" stroke="#000" stroke-width="1.3" fill="none" stroke-linecap="round" stroke-linejoin="round"/>
<path d="M777.9 989.7L784.7 987.9L780.7 982.2" stroke="#000" stroke-width="1.3" fill="none" stroke-linecap="round" stroke-linejoin="round"/>
<path d="M847.0 710.6L857.0 710.6" stroke="#000" stroke-width="2.0" fill="none" stroke-linecap="round"/>
<path d="M852.0 705.6L852.0 715.6" stroke="#000" stroke-width="2.0" fill="none" stroke-linecap="round"/>
<text x="803.6" y="736.6" font-size="23.7" textLength="73.4" lengthAdjust="spacingAndGlyphs" fill="#000" stroke="#fff" stroke-width="0">CH<tspan font-size="17.1" stroke-width="0" dy="4.7">3</tspan><tspan dy="-4.7">O</tspan><tspan font-size="18.5" stroke-width="0" dy="-1.7">−</tspan><tspan dy="1.7">H</tspan></text>
<path d="M918.4 713.8Q897 702 881.5 718" stroke="#000" stroke-width="1.3" fill="none" stroke-linecap="round" stroke-linejoin="round"/>
<path d="M881.4 713.0L880.4 718.9L886.3 717.9" stroke="#000" stroke-width="1.3" fill="none" stroke-linecap="round" stroke-linejoin="round"/>
<text x="922.7" y="719.0" font-size="16.4" textLength="46.3" lengthAdjust="spacingAndGlyphs" fill="#111" stroke="#fff" stroke-width="0">OHCH<tspan font-size="11.8" stroke-width="0" dy="3.3">3</tspan></text>
<path d="M851.3 741.7L851.3 758.0" stroke="#000" stroke-width="2.2" fill="none" stroke-linecap="round"/>
<text x="841.6" y="784.8" font-size="27.1" textLength="18.4" lengthAdjust="spacingAndGlyphs" fill="#000" stroke="#fff" stroke-width="0.12">C</text>
<path d="M872.2 785.4L877.2 776.5L884.0 788.0L888.7 775.5L895.5 787.0" stroke="#000" stroke-width="2.0" fill="none" stroke-linecap="round" stroke-linejoin="round"/>
<text x="896.9" y="793.6" font-size="25.1" textLength="12.7" lengthAdjust="spacingAndGlyphs" fill="#000" stroke="#fff" stroke-width="0">H</text>
<path d="M839.8 787.3L825.4 798.7" stroke="#000" stroke-width="2.2" fill="none" stroke-linecap="round"/>
<text x="790.0" y="817.7" font-size="25.3" textLength="39.7" lengthAdjust="spacingAndGlyphs" fill="#000" stroke="#fff" stroke-width="0">CH<tspan font-size="18.2" stroke-width="0" dy="5.1">3</tspan></text>
<path d="M862.2 788.6L874.0 814.7L884.2 809.6Z" fill="#000" stroke="#000" stroke-width="1.5" stroke-linejoin="round"/>
<text x="883.4" y="831.7" font-size="25.3" textLength="74.8" lengthAdjust="spacingAndGlyphs" fill="#000" stroke="#fff" stroke-width="0">CH<tspan font-size="18.2" stroke-width="0" dy="5.1">2</tspan><tspan dy="-5.1">CH</tspan><tspan font-size="18.2" stroke-width="0" dy="5.1">3</tspan></text>
<path d="M999.5 782.2L1038.3 782.2" stroke="#000" stroke-width="2.2" fill="none" stroke-linecap="round"/>
<path d="M1031.7 786.8L1038.3 782.2L1031.7 777.6" stroke="#000" stroke-width="2.2" fill="none" stroke-linecap="round" stroke-linejoin="round"/>
<text x="862.0" y="877.5" font-size="19.9" textLength="181.0" lengthAdjust="spacingAndGlyphs" fill="#111" stroke="#fff" stroke-width="0">SONO ENANTIOMERI</text>
<path d="M862 856.5L857 857L858 881L863 880.5" stroke="#000" stroke-width="1.3" fill="none" stroke-linecap="round" stroke-linejoin="round"/>
<path d="M1043 857L1048 856.5L1049 880.5L1044 881" stroke="#000" stroke-width="1.3" fill="none" stroke-linecap="round" stroke-linejoin="round"/>
<text x="1102.2" y="737.0" font-size="22.3" textLength="51.5" lengthAdjust="spacingAndGlyphs" fill="#000" stroke="#fff" stroke-width="0">CH<tspan font-size="16.0" stroke-width="0" dy="4.5">3</tspan><tspan dy="-4.5">O</tspan></text>
<path d="M1145.3 743.0L1145.3 759.0" stroke="#000" stroke-width="2.2" fill="none" stroke-linecap="round"/>
<text x="1136.0" y="786.0" font-size="27.1" textLength="19.4" lengthAdjust="spacingAndGlyphs" fill="#000" stroke="#fff" stroke-width="0.12">C</text>
<text x="1159.6" y="765.8" font-size="16.4" textLength="8.1" lengthAdjust="spacingAndGlyphs" fill="#1c961c" stroke="#fff" stroke-width="0" font-style="italic">R</text>
<path d="M1166.2 785.4L1171.2 776.5L1178.0 788.0L1182.7 775.5L1189.5 787.0" stroke="#000" stroke-width="2.0" fill="none" stroke-linecap="round" stroke-linejoin="round"/>
<text x="1190.5" y="793.6" font-size="25.1" textLength="13.5" lengthAdjust="spacingAndGlyphs" fill="#000" stroke="#fff" stroke-width="0">H</text>
<path d="M1133.9 788.6L1119.4 799.5" stroke="#000" stroke-width="2.2" fill="none" stroke-linecap="round"/>
<text x="1084.5" y="818.0" font-size="24.3" textLength="39.8" lengthAdjust="spacingAndGlyphs" fill="#000" stroke="#fff" stroke-width="0">CH<tspan font-size="17.5" stroke-width="0" dy="4.9">3</tspan></text>
<path d="M1155.8 787.3L1167.7 815.2L1177.9 809.6Z" fill="#000" stroke="#000" stroke-width="1.5" stroke-linejoin="round"/>
<text x="1177.9" y="831.0" font-size="24.3" textLength="74.7" lengthAdjust="spacingAndGlyphs" fill="#000" stroke="#fff" stroke-width="0">CH<tspan font-size="17.5" stroke-width="0" dy="4.9">2</tspan><tspan dy="-4.9">CH</tspan><tspan font-size="17.5" stroke-width="0" dy="4.9">3</tspan></text>
<path d="M1266.5 776.0L1280.5 776.0" stroke="#000" stroke-width="1.2" fill="none" stroke-linecap="round"/>
<path d="M1273.5 769.0L1273.5 783.0" stroke="#000" stroke-width="1.2" fill="none" stroke-linecap="round"/>
<text x="1299.5" y="783.5" font-size="27.1" textLength="98.9" lengthAdjust="spacingAndGlyphs" fill="#111" stroke="#fff" stroke-width="0.62">CH<tspan font-size="19.5" stroke-width="0" dy="5.4">3</tspan><tspan dy="-5.4">OH</tspan><tspan font-size="19.5" stroke-width="0" dy="5.4">2</tspan></text>
<path d="M1355.5 759.4L1362.5 759.4" stroke="#000" stroke-width="1.0" fill="none" stroke-linecap="round"/>
<path d="M1359.0 755.9L1359.0 762.9" stroke="#000" stroke-width="1.0" fill="none" stroke-linecap="round"/>
<text x="886.7" y="924.0" font-size="25.7" textLength="14.0" lengthAdjust="spacingAndGlyphs" fill="#000" stroke="#fff" stroke-width="0.01" transform="rotate(-8 886.7 924.0)">H</text>
<path d="M877.0 943.3L872.3 935.1L884.7 937.9L876.9 927.8L889.4 930.6L881.6 920.4L894.1 923.2" stroke="#000" stroke-width="2.0" fill="none" stroke-linecap="round" stroke-linejoin="round"/>
<text x="787.6" y="949.5" font-size="22.9" textLength="40.4" lengthAdjust="spacingAndGlyphs" fill="#000" stroke="#fff" stroke-width="0" transform="rotate(7 787.6 949.5)">CH<tspan font-size="16.5" stroke-width="0" dy="4.6">3</tspan></text>
<path d="M832.2 947.5L853.8 957.6" stroke="#000" stroke-width="2.2" fill="none" stroke-linecap="round"/>
<text x="861.9" y="976.6" font-size="34.4" textLength="23.6" lengthAdjust="spacingAndGlyphs" fill="#000" stroke="#fff" stroke-width="0.69">C</text>
<path d="M888.0 955.8L912.0 937.3L920.2 948.2Z" fill="#000" stroke="#000" stroke-width="1.5" stroke-linejoin="round"/>
<text x="923.0" y="943.8" font-size="24.7" textLength="89.7" lengthAdjust="spacingAndGlyphs" fill="#000" stroke="#fff" stroke-width="0">CH<tspan font-size="17.8" stroke-width="0" dy="4.9">2</tspan><tspan dy="-4.9">CH</tspan><tspan font-size="17.8" stroke-width="0" dy="4.9">3</tspan></text>
<path d="M1023.6 974.0L1066.7 974.0" stroke="#000" stroke-width="2.2" fill="none" stroke-linecap="round"/>
<path d="M1060.1 978.6L1066.7 974.0L1060.1 969.4" stroke="#000" stroke-width="2.2" fill="none" stroke-linecap="round" stroke-linejoin="round"/>
<path d="M875.8 983.0L875.8 1000.7" stroke="#000" stroke-width="2.2" fill="none" stroke-linecap="round"/>
<text x="831.5" y="1024.8" font-size="25.4" textLength="73.5" lengthAdjust="spacingAndGlyphs" fill="#000" stroke="#fff" stroke-width="0">CH<tspan font-size="18.3" stroke-width="0" dy="5.1">3</tspan><tspan dy="-5.1">O</tspan><tspan font-size="19.8" stroke-width="0" font-weight="bold" dy="-1.8">−</tspan><tspan dy="1.8">H</tspan></text>
<path d="M869.8 1035.0L881.8 1035.0" stroke="#000" stroke-width="2.0" fill="none" stroke-linecap="round"/>
<path d="M875.8 1029.0L875.8 1041.0" stroke="#000" stroke-width="2.0" fill="none" stroke-linecap="round"/>
<path d="M943.8 1003.2Q924 992 907 1007.5" stroke="#000" stroke-width="1.3" fill="none" stroke-linecap="round" stroke-linejoin="round"/>
<path d="M906.8 1002.4L905.8 1008.3L911.7 1007.3" stroke="#000" stroke-width="1.3" fill="none" stroke-linecap="round" stroke-linejoin="round"/>
<text x="946.3" y="1008.5" font-size="16.4" textLength="46.9" lengthAdjust="spacingAndGlyphs" fill="#111" stroke="#fff" stroke-width="0">OHCH<tspan font-size="11.8" stroke-width="0" dy="3.3">3</tspan></text>
<text x="1180.5" y="925.0" font-size="26.4" textLength="14.5" lengthAdjust="spacingAndGlyphs" fill="#000" stroke="#fff" stroke-width="0.07" transform="rotate(-8 1180.5 925.0)">H</text>
<path d="M1171.0 943.3L1166.3 935.1L1178.7 937.9L1170.9 927.8L1183.4 930.6L1175.6 920.4L1188.1 923.2" stroke="#000" stroke-width="2.0" fill="none" stroke-linecap="round" stroke-linejoin="round"/>
<text x="1081.7" y="950.0" font-size="22.6" textLength="40.6" lengthAdjust="spacingAndGlyphs" fill="#000" stroke="#fff" stroke-width="0" transform="rotate(6 1081.7 950.0)">CH<tspan font-size="16.3" stroke-width="0" dy="4.5">3</tspan></text>
<path d="M1126.8 948.7L1148.7 959.3" stroke="#000" stroke-width="2.2" fill="none" stroke-linecap="round"/>
<text x="1156.7" y="977.9" font-size="34.1" textLength="22.5" lengthAdjust="spacingAndGlyphs" fill="#000" stroke="#fff" stroke-width="0.67">C</text>
<path d="M1182.4 955.9L1207.0 938.1L1215.0 948.7Z" fill="#000" stroke="#000" stroke-width="1.5" stroke-linejoin="round"/>
<text x="1217.6" y="946.0" font-size="26.4" textLength="88.8" lengthAdjust="spacingAndGlyphs" fill="#000" stroke="#fff" stroke-width="0.07">CH<tspan font-size="19.0" stroke-width="0" dy="5.3">2</tspan><tspan dy="-5.3">CH</tspan><tspan font-size="19.0" stroke-width="0" dy="5.3">3</tspan></text>
<text x="1189.8" y="980.5" font-size="15.0" textLength="8.5" lengthAdjust="spacingAndGlyphs" fill="#1c961c" stroke="#fff" stroke-width="0">S</text>
<path d="M1169.4 984.5L1169.4 1001.7" stroke="#000" stroke-width="2.2" fill="none" stroke-linecap="round"/>
<text x="1132.0" y="1025.6" font-size="24.7" textLength="51.2" lengthAdjust="spacingAndGlyphs" fill="#000" stroke="#fff" stroke-width="0">CH<tspan font-size="17.8" stroke-width="0" dy="4.9">3</tspan><tspan dy="-4.9">O</tspan></text>
<path d="M1328.8 962.0L1340.8 962.0" stroke="#000" stroke-width="1.2" fill="none" stroke-linecap="round"/>
<path d="M1334.8 956.0L1334.8 968.0" stroke="#000" stroke-width="1.2" fill="none" stroke-linecap="round"/>
<text x="1360.7" y="970.0" font-size="28.6" textLength="98.0" lengthAdjust="spacingAndGlyphs" fill="#111" stroke="#fff" stroke-width="0.73">CH<tspan font-size="20.6" stroke-width="0" dy="5.7">3</tspan><tspan dy="-5.7">OH</tspan><tspan font-size="20.6" stroke-width="0" dy="5.7">2</tspan></text>
<path d="M1416.8 945.3L1423.8 945.3" stroke="#000" stroke-width="1.0" fill="none" stroke-linecap="round"/>
<path d="M1420.3 941.8L1420.3 948.8" stroke="#000" stroke-width="1.0" fill="none" stroke-linecap="round"/>
</svg>
</body></html>
